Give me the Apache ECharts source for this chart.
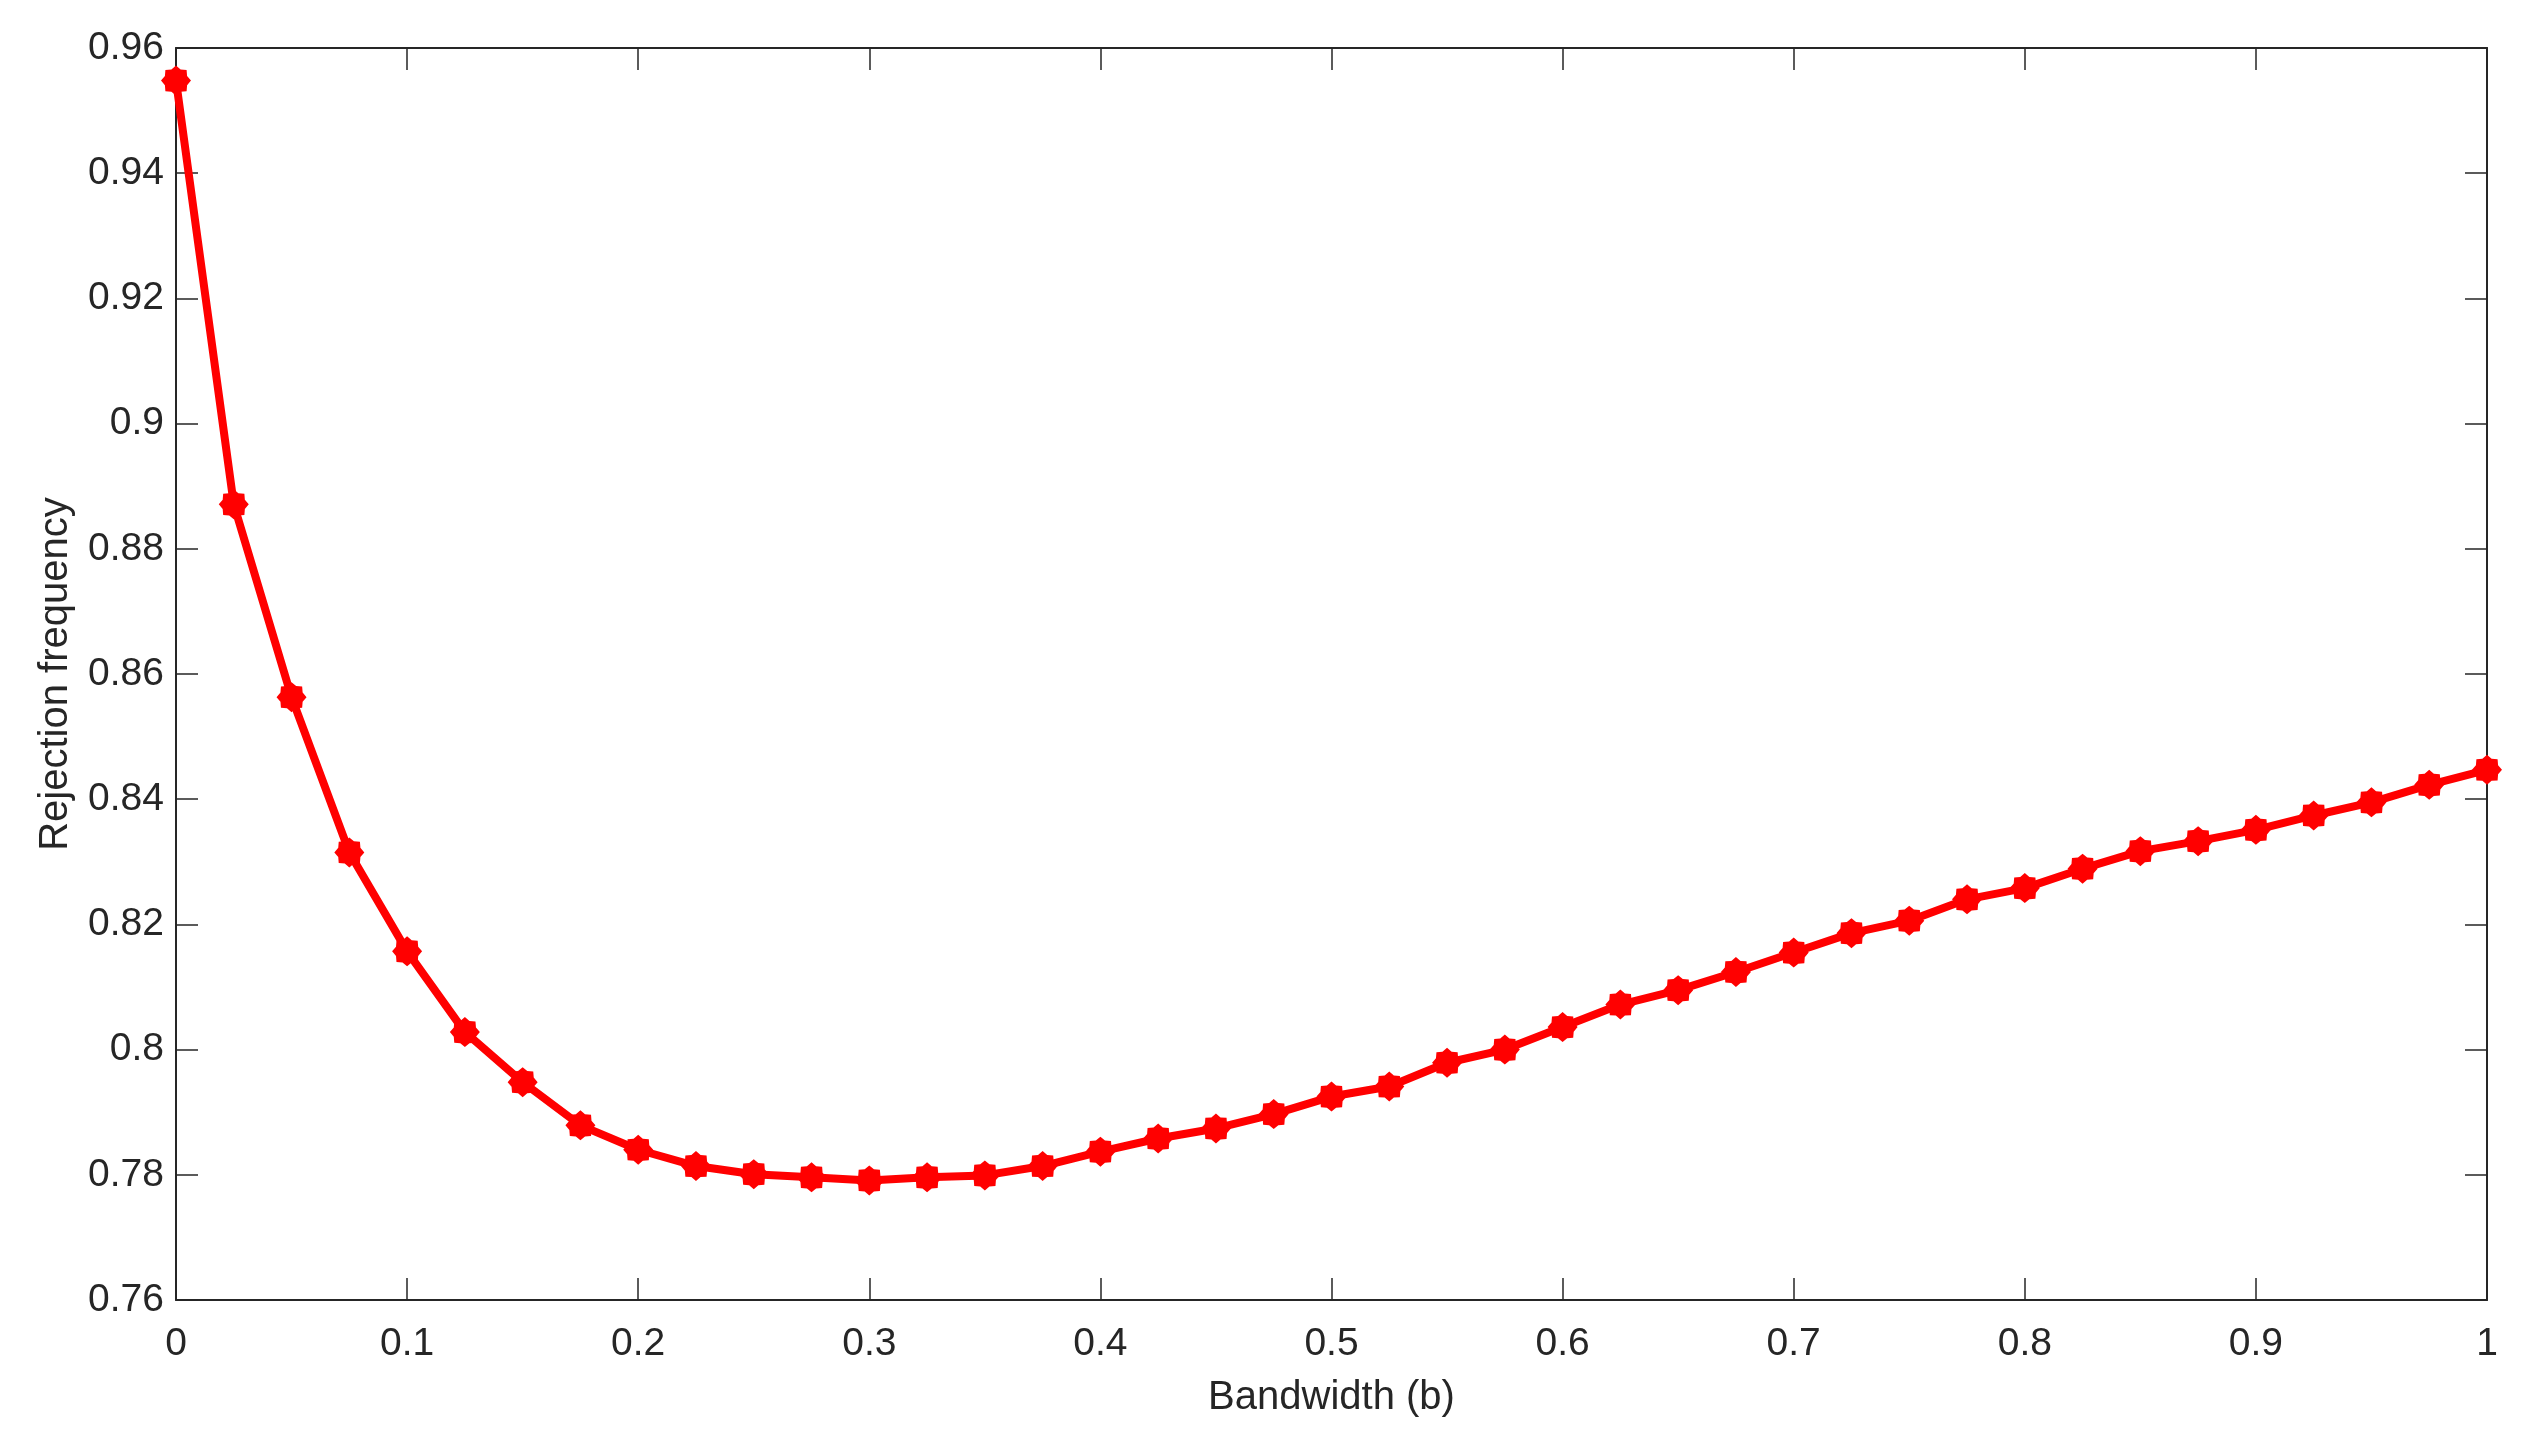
<!DOCTYPE html>
<html>
<head>
<meta charset="utf-8">
<script src="https://cdn.jsdelivr.net/npm/echarts@6/dist/echarts.min.js"></script>
<style>
  html, body { margin: 0; padding: 0; background: #fff; }
  #chart { width: 2531px; height: 1448px; }
</style>
</head>
<body>
<div id="chart"></div>
<script>
// bandwidth b from 0 to 1 in steps of 0.025
const bandwidth = [
  0, 0.025, 0.05, 0.075, 0.1, 0.125, 0.15, 0.175, 0.2, 0.225,
  0.25, 0.275, 0.3, 0.325, 0.35, 0.375, 0.4, 0.425, 0.45, 0.475,
  0.5, 0.525, 0.55, 0.575, 0.6, 0.625, 0.65, 0.675, 0.7, 0.725,
  0.75, 0.775, 0.8, 0.825, 0.85, 0.875, 0.9, 0.925, 0.95, 0.975, 1
];
const rejection = [
  0.9548, 0.8871, 0.8563, 0.8315, 0.8157, 0.8028, 0.7948, 0.7879, 0.7840, 0.7814,
  0.7801, 0.7796, 0.7791, 0.7796, 0.7799, 0.7814, 0.7837, 0.7858, 0.7874, 0.7897,
  0.7925, 0.7941, 0.7979, 0.8000, 0.8036, 0.8072, 0.8095, 0.8124, 0.8155, 0.8186,
  0.8206, 0.8240, 0.8258, 0.8289, 0.8317, 0.8333, 0.8351, 0.8374, 0.8395, 0.8423,
  0.8447
];
const xTicks = { min: 0, max: 1, interval: 0.1 };
const yTicks = { min: 0.76, max: 0.96, interval: 0.02 };

// asterisk-like marker (8 arms, thick) as a star path
function starPath(n, rOut, rIn) {
  let d = "";
  for (let i = 0; i < n * 2; i++) {
    const r = i % 2 === 0 ? rOut : rIn;
    const a = (Math.PI / n) * i - Math.PI / 2;
    d += (i === 0 ? "M" : "L") + (r * Math.cos(a)).toFixed(2) + "," + (r * Math.sin(a)).toFixed(2);
  }
  return "path://" + d + "Z";
}

const axisColor = "#262626";
const fontFamily = "Liberation Sans, Arial, sans-serif";

const tickStyle = { show: true, inside: true, length: 22, lineStyle: { color: axisColor, width: 1.5 } };
const lineStyle = { show: true, onZero: false, lineStyle: { color: axisColor, width: 2 } };

const chart = echarts.init(document.getElementById("chart"));
chart.setOption({
  animation: false,
  backgroundColor: "#fff",
  grid: { left: 176, right: 44, top: 48, bottom: 148, containLabel: false },
  xAxis: [
    {
      type: "value",
      ...xTicks,
      position: "bottom",
      name: "Bandwidth (b)",
      nameLocation: "middle",
      nameGap: 78,
      nameTextStyle: { fontFamily, fontSize: 40, color: axisColor },
      axisLine: lineStyle,
      axisTick: tickStyle,
      axisLabel: { fontFamily, fontSize: 39, color: axisColor, margin: 25 },
      splitLine: { show: false }
    },
    {
      type: "value",
      ...xTicks,
      position: "top",
      axisLine: lineStyle,
      axisTick: tickStyle,
      axisLabel: { show: false },
      splitLine: { show: false }
    }
  ],
  yAxis: [
    {
      type: "value",
      ...yTicks,
      position: "left",
      name: "Rejection frequency",
      nameLocation: "middle",
      nameGap: 100,
      nameTextStyle: { fontFamily, fontSize: 40, color: axisColor },
      axisLine: lineStyle,
      axisTick: tickStyle,
      axisLabel: { fontFamily, fontSize: 39, color: axisColor, margin: 12 },
      splitLine: { show: false }
    },
    {
      type: "value",
      ...yTicks,
      position: "right",
      axisLine: lineStyle,
      axisTick: tickStyle,
      axisLabel: { show: false },
      splitLine: { show: false }
    }
  ],
  series: [
    {
      type: "line",
      data: bandwidth.map((b, i) => [b, rejection[i]]),
      symbol: starPath(8, 10, 8),
      symbolSize: 30,
      showAllSymbol: true,
      clip: false,
      lineStyle: { color: "#ff0000", width: 8 },
      itemStyle: { color: "#ff0000", borderWidth: 0 },
      z: 3
    }
  ]
});
</script>
</body>
</html>
